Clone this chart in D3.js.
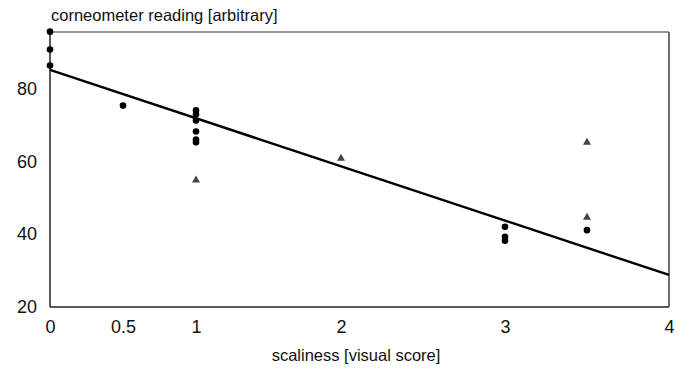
<!DOCTYPE html>
<html>
<head>
<meta charset="utf-8">
<script src="https://cdn.jsdelivr.net/npm/d3@7"></script>
<style>
  body { margin: 0; background: #fff; }
  svg { display: block; font-family: "Liberation Sans", Arial, Helvetica, sans-serif; }
</style>
</head>
<body>
<svg id="chart" width="680" height="368"></svg>
<script>
// ---- data ----
const xTickValues = [0, 0.5, 1, 2, 3, 4];
const xTickLabels = ["0", "0.5", "1", "2", "3", "4"];
const yTickValues = [20, 40, 60, 80];

// circles (visual score, corneometer reading)
const dotScores   = [0, 0, 0, 0.5, 1, 1, 1, 1, 1, 1, 3, 3, 3, 3.5];
const dotReadings = [95.6, 90.7, 86.3, 75.3, 74.0, 72.9, 71.2, 68.2, 66.0, 65.2, 42.0, 39.3, 38.2, 41.1];

// triangles
const triScores   = [1, 2, 3.5, 3.5];
const triReadings = [54.8, 60.8, 65.2, 44.6];

// regression line endpoints
const fitScores   = [0, 4];
const fitReadings = [85.1, 28.8];

const xTitle = "scaliness [visual score]";
const yTitle = "corneometer reading [arbitrary]";

// ---- layout ----
const svg = d3.select("#chart");
const pLeft = 50, pRight = 669, pTop = 32, pBottom = 307;

// the printed x-axis is slightly uneven between integer scores
const x = d3.scaleLinear().domain([0, 1, 2, 3, 4]).range([pLeft, 196, 341, 505, pRight]);
const y = d3.scaleLinear().domain([20, 95.5]).range([pBottom, pTop]);

// frame: top and right thin lines
svg.append("line").attr("x1", pLeft).attr("x2", pRight).attr("y1", pTop).attr("y2", pTop)
  .attr("stroke", "#333").attr("stroke-width", 1.2);
svg.append("line").attr("x1", pRight).attr("x2", pRight).attr("y1", pTop).attr("y2", pBottom)
  .attr("stroke", "#333").attr("stroke-width", 1.4);

// axes
const xAxis = d3.axisBottom(x).tickValues(xTickValues)
  .tickFormat((d, i) => xTickLabels[i]).tickSize(0).tickPadding(13);
const gx = svg.append("g").attr("transform", `translate(0,${pBottom})`).call(xAxis);
gx.select(".domain").attr("stroke", "#222").attr("stroke-width", 1.5).attr("d", `M${pLeft},0H${pRight}`);
gx.selectAll("text").attr("font-size", 18).attr("fill", "#111")
  .attr("font-family", "'Liberation Sans', Arial, sans-serif");

const yAxis = d3.axisLeft(y).tickValues(yTickValues).tickSize(0).tickPadding(13);
const gy = svg.append("g").attr("transform", `translate(${pLeft},0)`).call(yAxis);
gy.select(".domain").attr("stroke", "#222").attr("stroke-width", 1.5).attr("d", `M0,${pTop}V${pBottom}`);
gy.selectAll("text").attr("font-size", 18).attr("fill", "#111")
  .attr("font-family", "'Liberation Sans', Arial, sans-serif");

// titles
svg.append("text").attr("x", 51).attr("y", 21).attr("font-size", 16.5).attr("fill", "#111").text(yTitle);
svg.append("text").attr("x", 356).attr("y", 361).attr("text-anchor", "middle")
  .attr("font-size", 16.5).attr("fill", "#111").text(xTitle);

// regression line
svg.append("path")
  .datum(fitScores.map((s, i) => [s, fitReadings[i]]))
  .attr("d", d3.line().x(d => x(d[0])).y(d => y(d[1])))
  .attr("stroke", "#000").attr("stroke-width", 2.4).attr("fill", "none");

// dots
svg.append("g").selectAll("circle")
  .data(dotScores.map((s, i) => [s, dotReadings[i]]))
  .join("circle")
  .attr("cx", d => x(d[0])).attr("cy", d => y(d[1])).attr("r", 3.3).attr("fill", "#000");

// triangles
const tri = d3.symbol().type(d3.symbolTriangle).size(28);
svg.append("g").selectAll("path")
  .data(triScores.map((s, i) => [s, triReadings[i]]))
  .join("path")
  .attr("d", tri)
  .attr("transform", d => `translate(${x(d[0])},${y(d[1])})`)
  .attr("fill", "#444");
</script>
</body>
</html>
